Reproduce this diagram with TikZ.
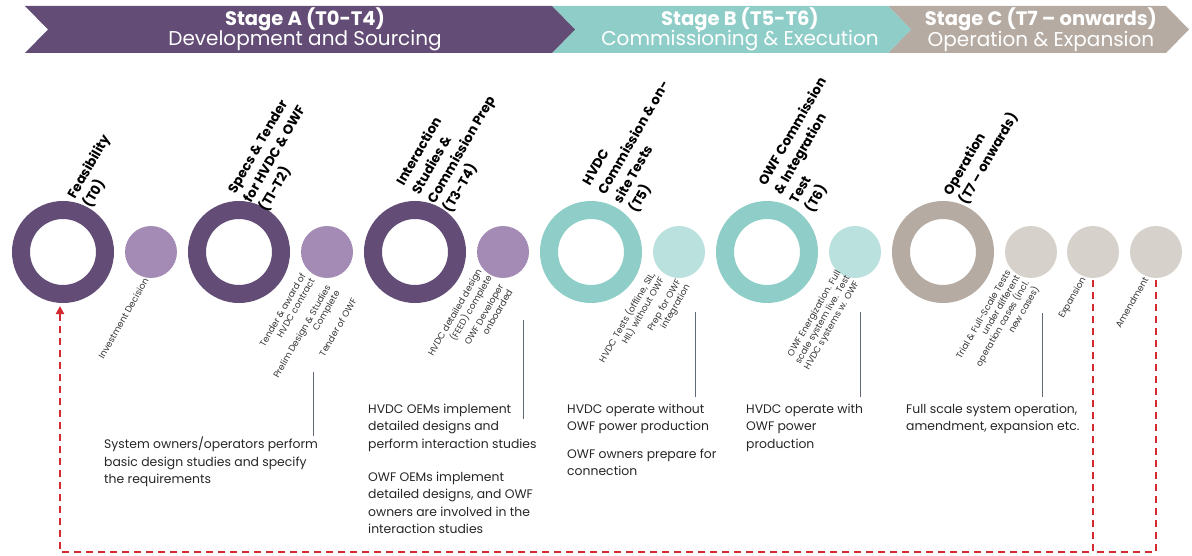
\documentclass[tikz,border=0pt]{standalone}
\usepackage{fontspec}
\setmainfont{Poppins}
\usetikzlibrary{arrows.meta}
\definecolor{pA}{HTML}{634C75}
\definecolor{pAl}{HTML}{A38BB5}
\definecolor{tB}{HTML}{8FCEC8}
\definecolor{tBl}{HTML}{BAE1DE}
\definecolor{gC}{HTML}{B5ABA2}
\definecolor{gCl}{HTML}{D7D1CB}
\definecolor{redd}{HTML}{D42A2F}
\definecolor{tickc}{HTML}{5F6A76}
\begin{document}
\begin{tikzpicture}[x=1pt,y=-1pt,
  ring/.style={circle, draw=#1, line width=18pt, minimum size=84pt, inner sep=0pt, outer sep=0pt},
  dot/.style={circle, fill=#1, minimum size=52pt, inner sep=0pt, outer sep=0pt},
  biglab/.style={rotate=60, anchor=south west, align=left, font=\bfseries\fontsize{13.3}{18}\selectfont, inner sep=0pt, text=black},
  smalllab/.style={rotate=60, anchor=north east, align=right, font=\fontsize{9}{10.5}\selectfont, inner sep=0pt, text=black!80},
  desc/.style={anchor=north west, align=left, font=\fontsize{12.4}{17.2}\selectfont, inner sep=0pt, text=black!85},
  hdrb/.style={text=white, font=\bfseries\fontsize{19.5}{20}\selectfont, inner sep=0pt},
  hdr/.style={text=white, font=\fontsize{20}{20}\selectfont, inner sep=0pt},
  tickline/.style={draw=tickc, line width=1pt},
  loopline/.style={draw=redd, line width=2pt, dash pattern=on 7pt off 5pt}
]
\useasboundingbox (0,0) rectangle (1192,556);
% header chevrons
\fill[gC] (888,6) -- (1166,6) -- (1189,29.5) -- (1166,53) -- (888,53) -- (911,29.5) -- cycle;
\fill[tB] (552,6) -- (888,6) -- (911,29.5) -- (888,53) -- (552,53) -- (575,29.5) -- cycle;
\fill[pA] (25,6) -- (552,6) -- (575,29.5) -- (552,53) -- (25,53) -- (48,29.5) -- cycle;
\node[hdrb] (hA1) at (305,19) {Stage A (T0-T4)};
\node[hdr]  (hA2) at (305,41) {Development and Sourcing};
\node[hdrb] (hB1) at (740,19) {Stage B (T5-T6)};
\node[hdr]  (hB2) at (740,41) {Commissioning \& Execution};
\node[hdrb] (hC1) at (1041,19) {Stage C (T7 – onwards)};
\node[hdr]  (hC2) at (1041,41) {Operation \& Expansion};
% rings and dots
\node[ring=pA] (r1) at (63,252) {};
\node[dot=pAl] (s1) at (151,252) {};
\node[ring=pA] (r2) at (239,252) {};
\node[dot=pAl] (s2) at (327,252) {};
\node[ring=pA] (r3) at (415,252) {};
\node[dot=pAl] (s3) at (503,252) {};
\node[ring=tB] (r4) at (591,252) {};
\node[dot=tBl] (s4) at (679,252) {};
\node[ring=tB] (r5) at (767,252) {};
\node[dot=tBl] (s5) at (855,252) {};
\node[ring=gC] (r6) at (943,252) {};
\node[dot=gCl] (s6) at (1031,252) {};
\node[dot=gCl] (s7) at (1093,252) {};
\node[dot=gCl] (s8) at (1156,252) {};
% big labels
\node[biglab] (b1) at (93,210) {Feasibility\\(T0)};
\node[biglab] (b2) at (269,214) {Specs \& Tender\\for HVDC \& OWF\\(T1-T2)};
\node[biglab] (b3) at (453,215) {Interaction\\Studies \&\\Commission Prep\\(T3-T4)};
\node[biglab] (b4) at (639,215) {HVDC\\Commission \& on-\\site Tests\\(T5)};
\node[biglab] (b5) at (815,215) {OWF Commission\\\& Integration\\Test\\(T6)};
\node[biglab] (b6) at (969,207) {Operation\\(T7 – onwards)};
% small labels
\node[smalllab] (l1) at (143,277) {Investment Decision};
\node[smalllab] (l2a) at (300,272) {Tender \& award of\\HVDC contract};
\node[smalllab] (l2b) at (325,284) {Prelim Design \& Studies\\Complete};
\node[smalllab] (l2c) at (351,297) {Tender of OWF};
\node[smalllab] (l3a) at (476,268) {HVDC detailed design\\(FEED) complete};
\node[smalllab] (l3b) at (498,283) {OWF Developer\\onboarded};
\node[smalllab] (l4a) at (648,270) {HVDC Tests (offline, SIL,\\HIL) without OWF};
\node[smalllab] (l4b) at (675,278) {Prep for OWF\\integration};
\node[smalllab] (l5) at (835,269) {OWF Energization. Full\\scale system live. Test\\HVDC systems w. OWF};
\node[smalllab] (l6) at (1005,269) {Trial \& Full-Scale Tests\\under different\\operation cases (incl.\\new cases)};
\node[smalllab] (l7) at (1080,276) {Expansion};
\node[smalllab] (l8) at (1143,276) {Amendment};
% tick lines
\coordinate (t2a) at (313,372); \coordinate (t2b) at (313,436);
\coordinate (t3a) at (523,320); \coordinate (t3b) at (523,419);
\coordinate (t4a) at (695,312); \coordinate (t4b) at (695,397);
\coordinate (t5a) at (860,312); \coordinate (t5b) at (860,397);
\coordinate (t6a) at (1042,313); \coordinate (t6b) at (1042,397);
\path[tickline] (t2a) -- (t2b);
\path[tickline] (t3a) -- (t3b);
\path[tickline] (t4a) -- (t4b);
\path[tickline] (t5a) -- (t5b);
\path[tickline] (t6a) -- (t6b);
% descriptions
\node[desc] (d1) at (104,437) {System owners/operators perform\\basic design studies and specify\\the requirements};
\node[desc] (d2) at (368,404) {HVDC OEMs implement\\detailed designs and\\perform interaction studies};
\node[desc] (d3) at (368,472) {OWF OEMs implement\\detailed designs, and OWF\\owners are involved in the\\interaction studies};
\node[desc] (d4) at (567,404) {HVDC operate without\\OWF power production};
\node[desc] (d5) at (567,449) {OWF owners prepare for\\connection};
\node[desc] (d6) at (746,404) {HVDC operate with\\OWF power\\production};
\node[desc] (d7) at (906,404) {Full scale system operation,\\amendment, expansion etc.};
% feedback loop
\coordinate (bot) at (0,552);
\coordinate (tip) at ([xshift=-3pt,yshift=-12pt]r1.south);
\coordinate (s7b) at ([yshift=-2pt]s7.south);
\coordinate (s8b) at ([yshift=-2pt]s8.south);
\draw[loopline, -{Triangle[length=8pt,width=8pt]}] (s7b) -- (s7b |- bot) -- (tip |- bot) -- (tip);
\draw[loopline] (s8b) -- (s8b |- bot) -- (s7b |- bot);
\end{tikzpicture}
\end{document}
